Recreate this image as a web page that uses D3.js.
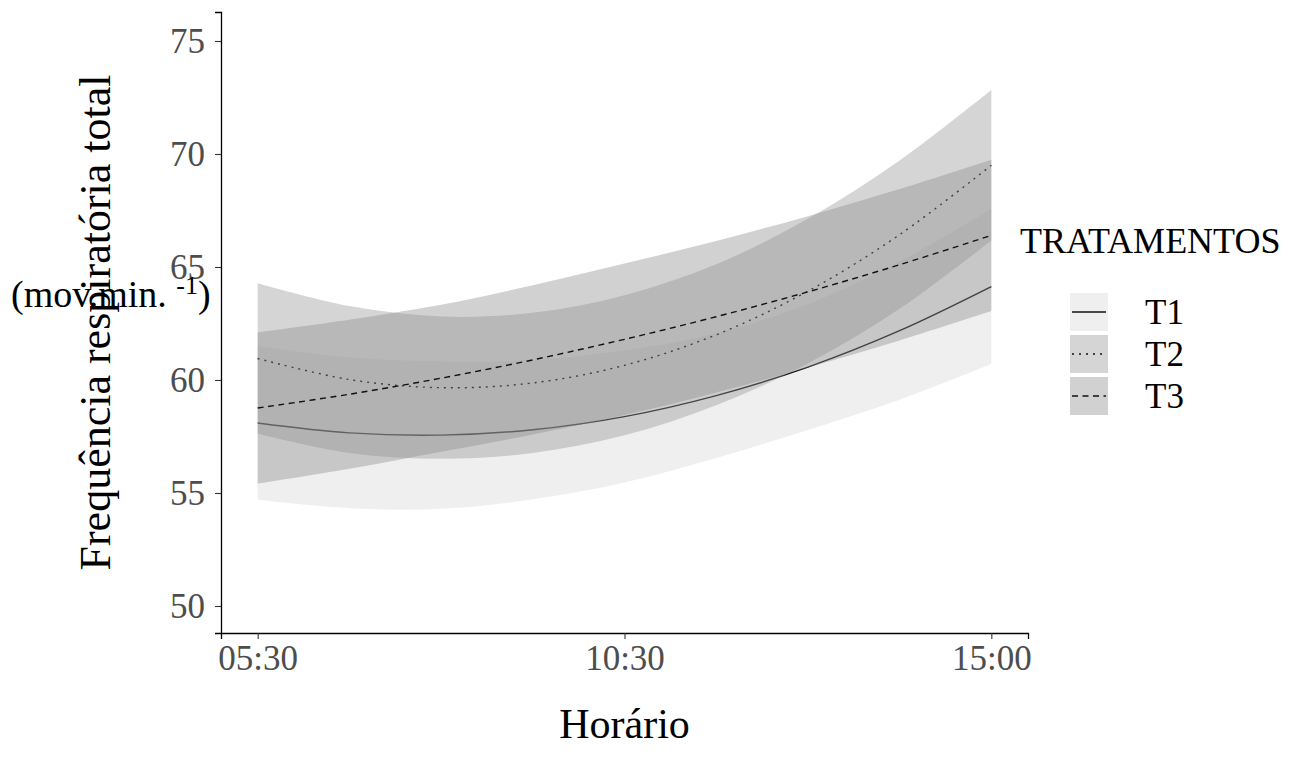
<!DOCTYPE html>
<html>
<head>
<meta charset="utf-8">
<script src="https://cdn.jsdelivr.net/npm/d3@7"></script>
<style>
  body { margin: 0; background: #fff; }
  svg { font-family: "Liberation Serif", "Times New Roman", serif; }
</style>
</head>
<body>
<svg width="1291" height="760"></svg>
<script>
// horario index (1 = 05:30, 2 = 10:30, 3 = 15:00)
const xTicks = [1, 2, 3];
const xLabels = ["05:30", "10:30", "15:00"];
const yTicks = [50, 55, 60, 65, 70, 75];

const xs = [1, 1.25, 1.5, 1.75, 2, 2.25, 2.5, 2.75, 3];

const t1Fit = [58.1, 57.66, 57.56, 57.8, 58.38, 59.31, 60.57, 62.18, 64.13];
const t1Low = [54.7, 54.33, 54.3, 54.72, 55.46, 56.55, 57.79, 59.13, 60.71];
const t1Up = [61.5, 60.99, 60.82, 60.88, 61.3, 62.07, 63.35, 65.23, 67.55];

const t2Fit = [60.95, 60.02, 59.66, 59.87, 60.65, 62.0, 63.93, 66.43, 69.5];
const t2Low = [57.62, 56.77, 56.51, 56.77, 57.55, 58.88, 60.73, 63.15, 66.17];
const t2Up = [64.28, 63.27, 62.81, 62.97, 63.75, 65.12, 67.13, 69.71, 72.83];

const t3Fit = [58.76, 59.37, 60.08, 60.89, 61.8, 62.8, 63.9, 65.1, 66.4];
const t3Low = [55.41, 56.07, 56.83, 57.59, 58.45, 59.45, 60.55, 61.75, 63.05];
const t3Up = [62.11, 62.67, 63.33, 64.19, 65.15, 66.15, 67.25, 68.45, 69.75];

const treatments = ["T1", "T2", "T3"];
const fills = ["#d6d6d6", "#969696", "#8c8c8c"];
const dashes = [null, "2,5", "6,4.5"];

const svg = d3.select("svg");
const margin = { top: 12, left: 221 };
const panelW = 807;
const panelH = 621;

const series = treatments.map((name, i) => ({
  name,
  fit: [t1Fit, t2Fit, t3Fit][i],
  low: [t1Low, t2Low, t3Low][i],
  up: [t1Up, t2Up, t3Up][i],
  fill: fills[i],
  dash: dashes[i],
}));

const xScale = d3.scaleLinear().domain([0.9, 3.1]).range([0, panelW]);
const yScale = d3.scaleLinear().domain([48.805, 76.283]).range([panelH, 0]);

const g = svg.append("g").attr("transform", `translate(${margin.left}, ${margin.top})`);

const area = d3
  .area()
  .x((d) => xScale(d.x))
  .y0((d) => yScale(d.lo))
  .y1((d) => yScale(d.hi))
  .curve(d3.curveCatmullRom);

const line = d3
  .line()
  .x((d) => xScale(d.x))
  .y((d) => yScale(d.y))
  .curve(d3.curveCatmullRom);

// ribbon then line for each group, like geom_smooth
series.forEach((s) => {
  const band = xs.map((x, i) => ({ x, lo: s.low[i], hi: s.up[i] }));
  const pts = xs.map((x, i) => ({ x, y: s.fit[i] }));
  g.append("path").datum(band).attr("d", area).attr("fill", s.fill).attr("fill-opacity", 0.4);
  g.append("path")
    .datum(pts)
    .attr("d", line)
    .attr("fill", "none")
    .attr("stroke", "#111")
    .attr("stroke-width", 1.4)
    .attr("stroke-dasharray", s.dash);
});

// axes
const xAxis = d3
  .axisBottom(xScale)
  .tickValues(xTicks)
  .tickFormat((d, i) => xLabels[i])
  .tickSizeOuter(0)
  .tickSize(6)
  .tickPadding(6);

const xAxisG = g.append("g").attr("transform", `translate(0, ${panelH})`).call(xAxis);

const yAxis = d3.axisLeft(yScale).tickValues(yTicks).tickSizeOuter(0).tickSize(6).tickPadding(10);
const yAxisG = g.append("g").call(yAxis);

[xAxisG, yAxisG].forEach((ax) => {
  ax.select(".domain").attr("stroke", "#000").attr("stroke-width", 1.3);
  ax.selectAll(".tick line").attr("stroke", "#333").attr("stroke-width", 1.1);
  ax.selectAll(".tick text")
    .attr("fill", "#4d4d4d")
    .style("font-size", "35px")
    .style("font-family", "'Liberation Serif', 'Times New Roman', serif");
});

// axis titles
svg
  .append("text")
  .attr("x", margin.left + panelW / 2)
  .attr("y", 738)
  .attr("text-anchor", "middle")
  .style("font-size", "42px")
  .text("Horário");

svg
  .append("text")
  .attr("transform", `translate(110, ${margin.top + panelH / 2}) rotate(-90)`)
  .attr("text-anchor", "middle")
  .style("font-size", "44px")
  .text("Frequência respiratória total");

const unit = svg.append("text").attr("x", 11).attr("y", 307).style("font-size", "38px");
unit.append("tspan").text("(mov.min. ");
unit.append("tspan").attr("dy", -13).style("font-size", "26px").text("-1");
unit.append("tspan").attr("dy", 13).text(")");

// legend
const legend = svg.append("g");
legend
  .append("text")
  .attr("x", 1020)
  .attr("y", 253)
  .style("font-size", "36px")
  .text("TRATAMENTOS");

const keyW = 38;
const keyH = 38;
const keyY = d3.scaleBand().domain(treatments).range([293, 293 + 3 * 42]);

series.forEach((s) => {
  const y0 = keyY(s.name);
  legend.append("rect").attr("x", 1070).attr("y", y0).attr("width", keyW).attr("height", keyH).attr("fill", "#fff");
  legend
    .append("rect")
    .attr("x", 1070)
    .attr("y", y0)
    .attr("width", keyW)
    .attr("height", keyH)
    .attr("fill", s.fill)
    .attr("fill-opacity", 0.4);
  legend
    .append("line")
    .attr("x1", 1072)
    .attr("x2", 1106)
    .attr("y1", y0 + keyH / 2)
    .attr("y2", y0 + keyH / 2)
    .attr("stroke", "#111")
    .attr("stroke-width", 1.4)
    .attr("stroke-dasharray", s.dash);
  legend
    .append("text")
    .attr("x", 1145)
    .attr("y", y0 + keyH / 2 + 12)
    .style("font-size", "35px")
    .text(s.name);
});
</script>
</body>
</html>
